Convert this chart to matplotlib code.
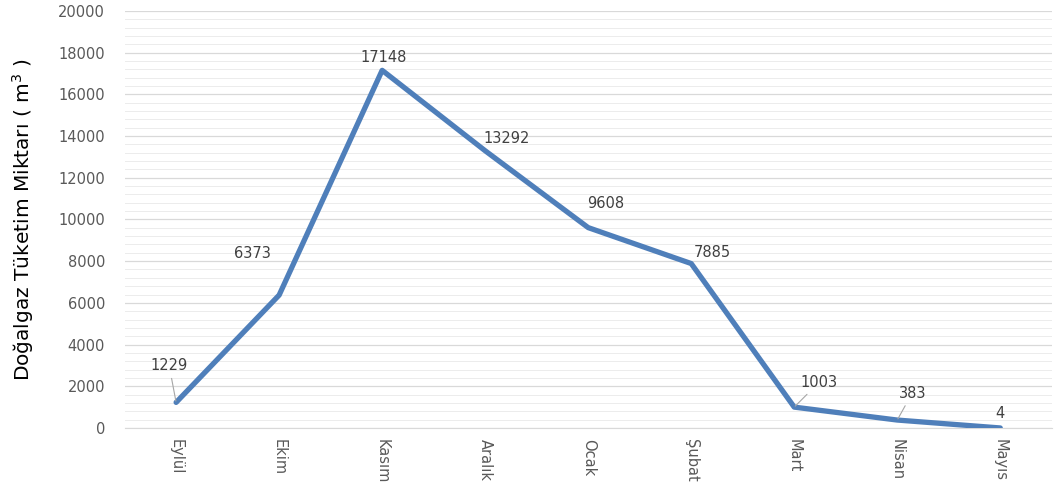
import matplotlib.pyplot as plt
from matplotlib.ticker import MultipleLocator

# Monthly natural gas consumption
months = ['Eylül', 'Ekim', 'Kasım', 'Aralık', 'Ocak', 'Şubat', 'Mart', 'Nisan', 'Mayıs']
consumption = [1229, 6373, 17148, 13292, 9608, 7885, 1003, 383, 4]

# label offsets in pixels (dx, dy) and whether a leader line is drawn
label_offsets = [(-7, 37), (-27, 42), (1, 13), (21, 12), (17, 24), (21, 11), (25, 25), (15, 27), (0, 14)]
leaders = [True, False, False, False, False, False, True, True, False]

fig = plt.figure(figsize=(10.56, 4.92), dpi=100)
ax = fig.add_axes([0.118, 0.130, 0.878, 0.848])

x = list(range(len(months)))
ax.plot(x, consumption, color='#4f7fba', linewidth=3.8, solid_capstyle='round', zorder=3)

for i, (v, (dx, dy), lead) in enumerate(zip(consumption, label_offsets, leaders)):
    arrow = dict(arrowstyle='-', color='#a6a6a6', lw=0.8, shrinkA=2, shrinkB=1) if lead else None
    ax.annotate(str(v), xy=(i, v), xytext=(dx, dy), textcoords='offset pixels',
                ha='center', va='center', fontsize=10.5, color='#404040',
                arrowprops=arrow, zorder=4)

ax.set_xlim(-0.5, len(months) - 0.5)
ax.set_ylim(0, 20000)
ax.yaxis.set_major_locator(MultipleLocator(2000))
ax.yaxis.set_minor_locator(MultipleLocator(400))
ax.grid(which='major', axis='y', color='#d9d9d9', linewidth=0.9)
ax.grid(which='minor', axis='y', color='#ececec', linewidth=0.7)
ax.set_axisbelow(True)

ax.set_xticks(x)
ax.set_xticklabels(months, rotation=270, fontsize=10.5, color='#595959')
ax.tick_params(axis='x', length=0, pad=8)
ax.tick_params(axis='y', which='both', length=0, labelsize=10.5, labelcolor='#595959', pad=14)

for side in ['top', 'right', 'left']:
    ax.spines[side].set_visible(False)
ax.spines['bottom'].set_color('#d9d9d9')

ax.set_ylabel('Doğalgaz Tüketim Miktarı ( m$^3$ )', fontsize=14.5, color='black', labelpad=16)

fig.savefig('out.png', dpi=100)
